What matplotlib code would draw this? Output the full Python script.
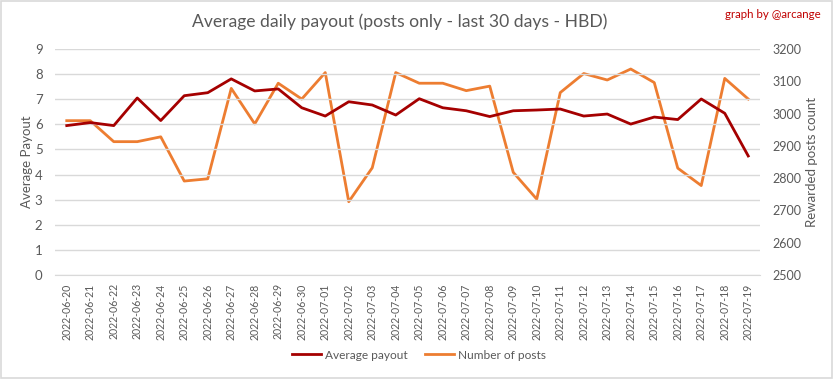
import matplotlib
matplotlib.use("Agg")
import matplotlib.pyplot as plt
from matplotlib.patches import Rectangle

dates = ["2022-06-20", "2022-06-21", "2022-06-22", "2022-06-23", "2022-06-24",
         "2022-06-25", "2022-06-26", "2022-06-27", "2022-06-28", "2022-06-29",
         "2022-06-30", "2022-07-01", "2022-07-02", "2022-07-03", "2022-07-04",
         "2022-07-05", "2022-07-06", "2022-07-07", "2022-07-08", "2022-07-09",
         "2022-07-10", "2022-07-11", "2022-07-12", "2022-07-13", "2022-07-14",
         "2022-07-15", "2022-07-16", "2022-07-17", "2022-07-18", "2022-07-19"]

avg_payout = [5.95, 6.07, 5.95, 7.05, 6.15, 7.14, 7.26, 7.81, 7.33, 7.41,
              6.66, 6.33, 6.90, 6.77, 6.37, 7.02, 6.66, 6.54, 6.31, 6.54,
              6.57, 6.61, 6.33, 6.41, 6.01, 6.29, 6.19, 7.01, 6.44, 4.74]

num_posts = [2978, 2978, 2913, 2913, 2928, 2791, 2798, 3078, 2968, 3094,
             3045, 3127, 2727, 2832, 3127, 3094, 3094, 3071, 3085, 2818,
             2735, 3065, 3124, 3104, 3138, 3096, 2831, 2777, 3109, 3045]

left_ticks = list(range(0, 10))
right_ticks = list(range(2500, 3300, 100))

FONT = ["Lato", "DejaVu Sans"]
plt.rcParams["font.family"] = FONT
GRAY = "#595959"
DARK = "#A50000"
ORANGE = "#ED7D31"

fig = plt.figure(figsize=(8.33, 3.79), dpi=100)
fig.patches.append(Rectangle((0.0015, 0.002), 0.997, 0.995, transform=fig.transFigure,
                             fill=False, edgecolor="#D9D9D9", linewidth=1.2))

ax = fig.add_axes([55/833, 1-275/379, (760-55)/833, (275-49)/379])
ax2 = ax.twinx()

x = list(range(len(dates)))
l1, = ax.plot(x, avg_payout, color=DARK, linewidth=2.0, label="Average payout", zorder=3)
l2, = ax2.plot(x, num_posts, color=ORANGE, linewidth=2.0, label="Number of posts", zorder=2)

ax.set_zorder(ax2.get_zorder() + 1)
ax.patch.set_visible(False)

ax.set_xlim(-0.5, len(dates) - 0.5)
ax.set_ylim(0, 9)
ax.set_yticks(left_ticks)
ax2.set_ylim(2500, 3200)
ax2.set_yticks(right_ticks)

ax.set_xticks(x)
ax.set_xticklabels(dates, rotation=90, fontsize=7.6, color=GRAY)
ax.grid(axis="y", color="#D9D9D9", linewidth=1.0)
ax.set_axisbelow(True)

for a in (ax, ax2):
    for s in a.spines.values():
        s.set_visible(False)
    a.tick_params(length=0, colors=GRAY)
ax.tick_params(axis="y", labelsize=9.5, pad=9)
ax2.tick_params(axis="y", labelsize=9, pad=9)
ax.tick_params(axis="x", pad=6)
ax.spines["bottom"].set_visible(True)
ax.spines["bottom"].set_color("#D9D9D9")

ax.set_ylabel("Average Payout", color=GRAY, fontsize=9.5, labelpad=1)
ax2.set_ylabel("Rewarded posts count", color=GRAY, fontsize=9.5, labelpad=3)

fig.text(0.48, 0.942, "Average daily payout (posts only - last 30 days - HBD)",
         ha="center", va="center", fontsize=12.6, color=GRAY)
fig.text(0.985, 0.962, "graph by @arcange", ha="right", va="center",
         fontsize=8.3, color="#C00000")

fig.legend(handles=[l1, l2], loc="center", bbox_to_anchor=(0.503, 0.063), ncol=2,
           frameon=False, fontsize=8.6, labelcolor=GRAY, handlelength=2.4,
           handletextpad=0.3, columnspacing=1.5)

fig.savefig("out.png", dpi=100)
